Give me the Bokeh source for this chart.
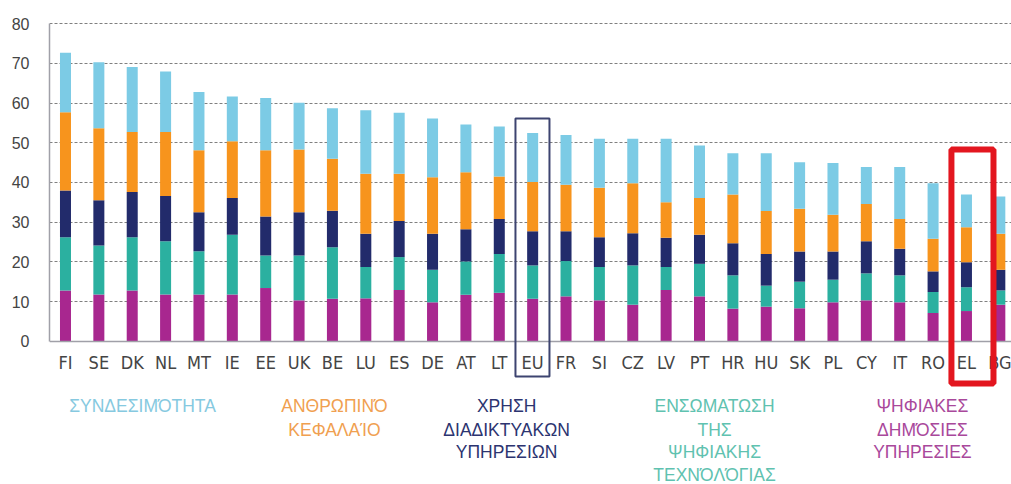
from bokeh.plotting import figure
from bokeh.models import Range1d, FixedTicker, Label, BoxAnnotation, ColumnDataSource
from bokeh.embed import file_html
from bokeh.resources import INLINE

countries = ["FI", "SE", "DK", "NL", "MT", "IE", "EE", "UK", "BE", "LU", "ES", "DE", "AT", "LT", "EU",
             "FR", "SI", "CZ", "LV", "PT", "HR", "HU", "SK", "PL", "CY", "IT", "RO", "EL", "BG"]

digital_public = [12.8, 11.8, 12.8, 11.8, 11.8, 11.8, 13.4, 10.3, 10.7, 10.8, 12.9, 9.8, 11.7, 12.2, 10.7,
                  11.3, 10.3, 9.2, 12.9, 11.3, 8.2, 8.7, 8.3, 9.8, 10.3, 9.8, 7.1, 7.6, 9.2]
integration = [13.4, 12.3, 13.4, 13.4, 10.9, 15.0, 8.2, 11.3, 13.0, 7.9, 8.3, 8.2, 8.4, 9.8, 8.4,
               8.9, 8.4, 9.9, 5.8, 8.2, 8.4, 5.3, 6.7, 5.7, 6.8, 6.8, 5.3, 6.0, 3.6]
internet_use = [11.8, 11.4, 11.4, 11.4, 9.8, 9.3, 9.8, 10.9, 9.2, 8.4, 9.1, 9.1, 8.1, 8.8, 8.6,
                7.5, 7.5, 8.1, 7.4, 7.3, 8.1, 8.0, 7.6, 7.1, 8.1, 6.7, 5.2, 6.3, 5.2]
human_capital = [19.7, 18.2, 15.1, 16.1, 15.6, 14.3, 16.7, 15.8, 13.1, 15.1, 11.9, 14.2, 14.4, 10.7, 12.4,
                 11.7, 12.5, 12.6, 8.9, 9.3, 12.3, 10.8, 10.8, 9.3, 9.4, 7.5, 8.2, 8.8, 9.1]
connectivity = [15.0, 16.6, 16.4, 15.3, 14.7, 11.3, 13.2, 11.8, 12.7, 16.0, 15.4, 14.8, 12.0, 12.6, 12.4,
                12.6, 12.3, 11.2, 16.0, 13.2, 10.4, 14.6, 11.7, 13.0, 9.3, 13.1, 14.0, 8.3, 9.4]

series_keys = ["digital_public", "integration", "internet_use", "human_capital", "connectivity"]
bar_colors = ["#a8278f", "#2bb0a0", "#222b6b", "#f7941d", "#7ccbe5"]

legend_lines = [
    ["ΣΥΝΔΕΣΙΜΌΤΗΤΑ"],
    ["ΑΝΘΡΩΠΙΝΌ", "ΚΕΦΑΛΑΊΟ"],
    ["ΧΡΗΣΗ", "ΔΙΑΔΙΚΤΥΑΚΩΝ", "ΥΠΗΡΕΣΙΩΝ"],
    ["ΕΝΣΩΜΑΤΩΣΗ", "ΤΗΣ", "ΨΗΦΙΑΚΗΣ", "ΤΕΧΝΌΛΌΓΙΑΣ"],
    ["ΨΗΦΙΑΚΕΣ", "ΔΗΜΌΣΙΕΣ", "ΥΠΗΡΕΣΙΕΣ"],
]
legend_colors = ["#86c9e0", "#f0a050", "#2c3470", "#5fc2b0", "#a9489b"]
legend_x = [2.31, 8.06, 13.22, 19.45, 25.68]
legend_row_y = [-16.46, -22.26, -28.05, -33.85]

y_ticks = [0, 10, 20, 30, 40, 50, 60, 70, 80]

xs = list(range(len(countries)))
source = ColumnDataSource(dict(x=xs, digital_public=digital_public, integration=integration,
                               internet_use=internet_use, human_capital=human_capital,
                               connectivity=connectivity))

p = figure(width=1011, height=484, x_range=Range1d(-0.479, 28.35), y_range=Range1d(-36.12, 85.87),
           output_backend="svg", toolbar_location=None,
           min_border_left=49, min_border_right=0, min_border_top=0, min_border_bottom=0)
p.outline_line_color = None
p.background_fill_color = "white"

p.vbar_stack(series_keys, x="x", width=0.33, color=bar_colors, line_width=0, source=source)

p.xaxis.fixed_location = 0
p.xaxis.ticker = FixedTicker(ticks=xs)
p.xaxis.major_label_overrides = {i: c for i, c in enumerate(countries)}
p.xaxis.major_tick_line_color = None
p.xaxis.minor_tick_line_color = None
p.xaxis.axis_line_color = "#a0a0a8"
p.xaxis.axis_line_width = 1.5
p.xaxis.major_label_text_font = "DejaVu Sans Condensed"
p.xaxis.major_label_text_font_size = "18px"
p.xaxis.major_label_text_color = "#444444"
p.xaxis.major_label_standoff = 5

p.yaxis.ticker = FixedTicker(ticks=y_ticks)
p.yaxis.bounds = (0, 80)
p.yaxis.major_tick_line_color = None
p.yaxis.minor_tick_line_color = None
p.yaxis.axis_line_color = "#a0a0a8"
p.yaxis.axis_line_width = 1.5
p.yaxis.major_label_text_font = "Liberation Sans"
p.yaxis.major_label_text_font_size = "16px"
p.yaxis.major_label_text_color = "#444444"
p.yaxis.major_label_standoff = 14

p.xgrid.visible = False
p.ygrid.ticker = FixedTicker(ticks=y_ticks[1:])
p.ygrid.grid_line_color = "#808080"
p.ygrid.grid_line_dash = "3 2"
p.ygrid.grid_line_width = 1.2

p.add_layout(BoxAnnotation(left=13.485, right=14.504, top=56.13, bottom=-8.9,
                           fill_color=None, fill_alpha=0, line_color="#3d4470", line_alpha=1.0,
                           line_width=2))
p.add_layout(BoxAnnotation(left=26.55, right=27.81, top=48.3, bottom=-10.66,
                           fill_color=None, fill_alpha=0, line_color="#e3161f", line_alpha=1.0,
                           line_width=6))

for lines, col, lx in zip(legend_lines, legend_colors, legend_x):
    for j, t in enumerate(lines):
        p.add_layout(Label(x=lx, y=legend_row_y[j], text=t, text_align="center",
                           text_baseline="middle", text_font="Liberation Sans",
                           text_font_size="17.5px", text_color=col))

open("out.html", "w").write(file_html(p, INLINE))
